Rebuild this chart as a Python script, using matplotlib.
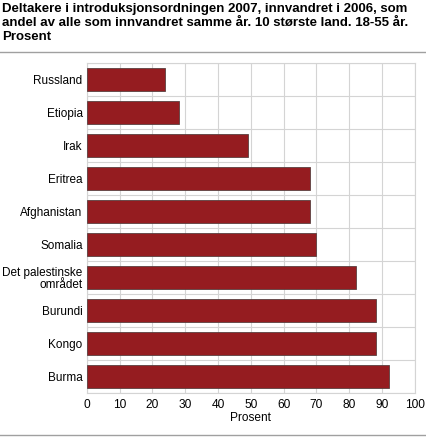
import numpy as np
import matplotlib
matplotlib.use("Agg")
import matplotlib.pyplot as plt
from matplotlib import font_manager as fm

# pas de Liberation Sans Narrow
fm.fontManager.ttflist = [f for f in fm.fontManager.ttflist
                          if "Narrow" not in f.fname]
plt.rcParams["font.family"] = ["Liberation Sans", "DejaVu Sans"]

# ─── Données ──────────────────────────────────────────────────────────────────
countries = ["Russland", "Etiopia", "Irak", "Eritrea", "Afghanistan", "Somalia",
             "Det palestinske\nområdet", "Burundi", "Kongo", "Burma"]
values = [24, 28, 49, 68, 68, 70, 82, 88, 88, 92]
xticks = list(range(0, 101, 10))

TITLE = ("Deltakere i introduksjonsordningen 2007, innvandret i 2006, som\n"
         "andel av alle som innvandret samme år. 10 største land. 18-55 år.\n"
         "Prosent")
BAR   = "#951c20"
EDGE  = "#5a4040"
GRID  = "#d4d4d4"

fig = plt.figure(figsize=(4.26, 4.37), dpi=100)
ax = fig.add_axes([0.2035, 0.1007, 0.7705, 0.7553])

y = np.arange(len(countries))
ax.barh(y, values, height=0.7, color=BAR, edgecolor=EDGE, linewidth=0.6, zorder=3)
ax.set_ylim(len(countries) - 0.5, -0.5)
ax.set_xlim(0, 100)
ax.set_xticks(xticks)
ax.set_xticklabels([str(v) for v in xticks], fontsize=8.6)
ax.set_yticks(y)
ax.set_yticklabels(countries, fontsize=8.5, linespacing=1.0)
ax.set_yticks(np.arange(len(countries) + 1) - 0.5, minor=True)
ax.tick_params(which="both", length=0, pad=4)
ax.tick_params(axis="y", pad=3)
ax.grid(axis="x", color=GRID, linewidth=0.8, zorder=0)
ax.grid(axis="y", which="minor", color=GRID, linewidth=0.8, zorder=0)
for s in ax.spines.values():
    s.set_color(GRID)
    s.set_linewidth(0.8)
ax.set_xlabel("Prosent", fontsize=8.6, labelpad=1)

fig.text(0.005, 0.993, TITLE, ha="left", va="top", fontsize=9.5,
         fontweight="bold", linespacing=1.2)
fig.add_artist(plt.Line2D([0, 1], [1 - 51.5 / 437] * 2, color="#a0a0a0", lw=1))
fig.add_artist(plt.Line2D([0, 1], [1 - 435 / 437] * 2, color="#a0a0a0", lw=1))

fig.savefig("out.png", dpi=100)
